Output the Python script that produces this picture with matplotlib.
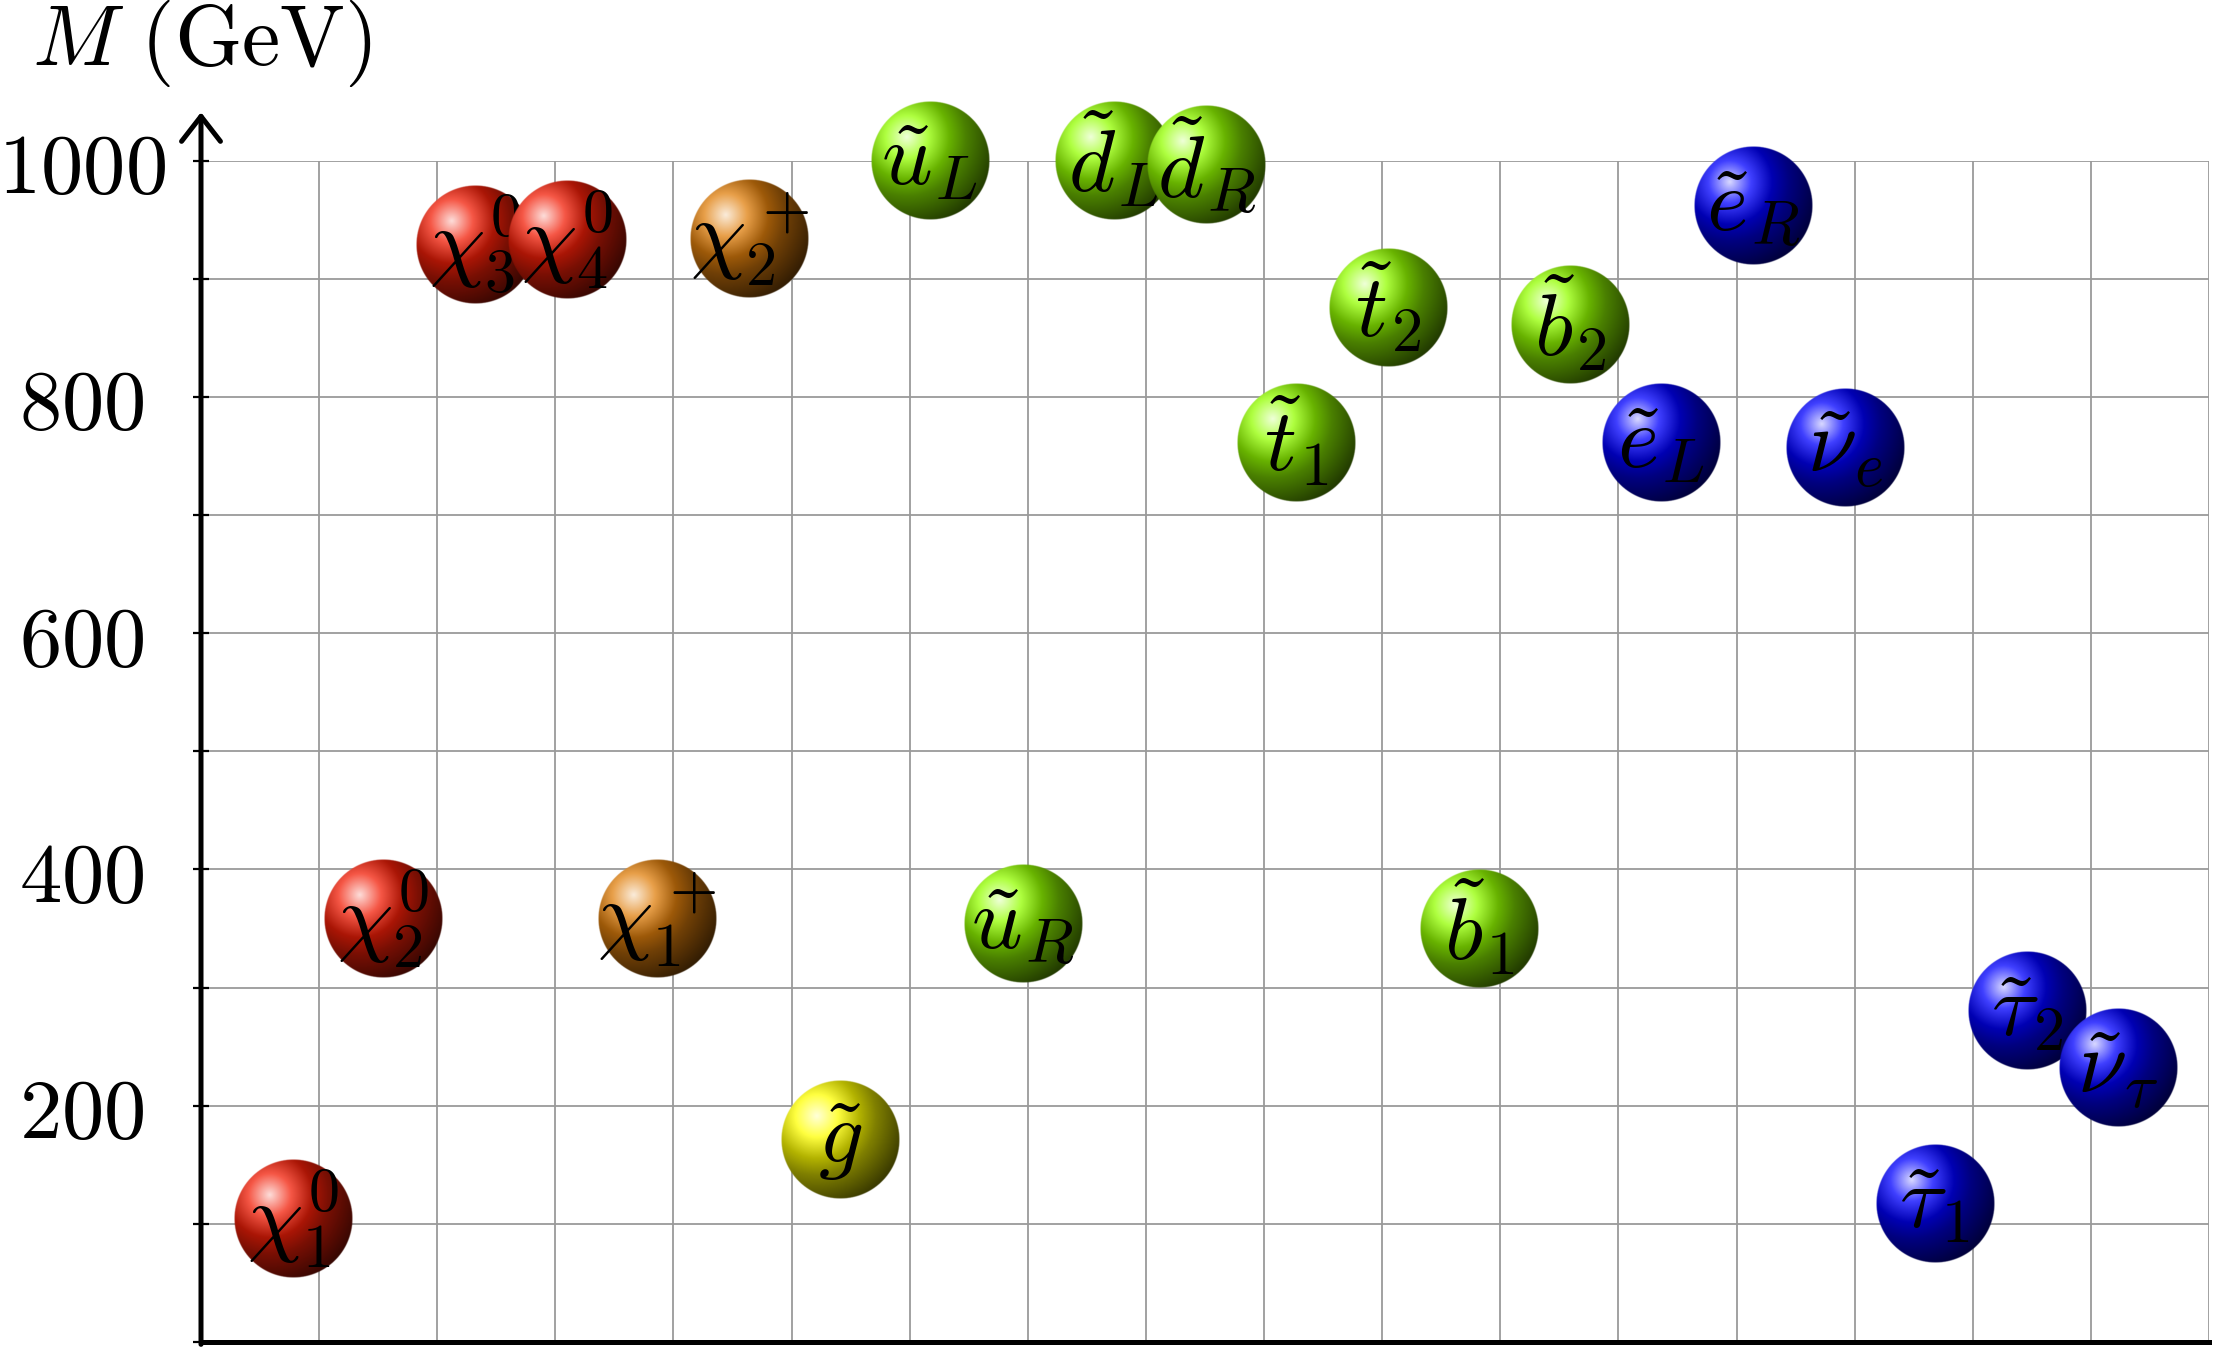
#!/usr/bin/env python3
"""Sparticle mass spectrum drawn as shaded balls"""
import matplotlib
matplotlib.use("Agg")
import matplotlib.pyplot as plt
import numpy as np

plt.rcParams['mathtext.fontset'] = 'cm'

# Spectrum data
labels = [r'$\chi_1^0$', r'$\chi_2^0$', r'$\chi_3^0$', r'$\chi_4^0$',
          r'$\chi_1^+$', r'$\chi_2^+$', r'$\tilde{g}$',
          r'$\tilde{u}_L$', r'$\tilde{u}_R$', r'$\tilde{d}_L$', r'$\tilde{d}_R$',
          r'$\tilde{t}_1$', r'$\tilde{t}_2$', r'$\tilde{b}_1$', r'$\tilde{b}_2$',
          r'$\tilde{e}_L$', r'$\tilde{e}_R$', r'$\tilde{\nu}_e$',
          r'$\tilde{\tau}_1$', r'$\tilde{\tau}_2$', r'$\tilde{\nu}_\tau$']
x_pos = [0.78, 1.54, 2.32, 3.10, 3.86, 4.64, 5.41, 6.17, 6.96, 7.73, 8.51,
         9.27, 10.05, 10.82, 11.59, 12.36, 13.14, 13.92, 14.68, 15.46, 16.23]
masses = [104, 358, 929, 933, 358, 934, 171, 1000, 354, 1000, 996,
          761, 875, 350, 861, 761, 962, 757, 117, 280, 232]
kinds = ['neutralino'] * 4 + ['chargino'] * 2 + ['gluino'] + ['squark'] * 8 + ['slepton'] * 6

ball_colors = {
    'neutralino': (0.95, 0.12, 0.03),
    'chargino': (0.88, 0.50, 0.05),
    'gluino': (1.0, 1.0, 0.0),
    'squark': (0.58, 1.0, 0.0),
    'slepton': (0.0, 0.0, 1.0),
}
y_ticks = np.arange(0, 1001, 100)
y_ticklabels = ['' if (t % 200 or t == 0) else rf'${t}$' for t in y_ticks]


def ball_image(color, n=240):
    """pgf 'ball' shading: radial gradient, highlight up-left"""
    c = np.array(color)
    t = np.linspace(-1, 1, n)
    xx, yy = np.meshgrid(t, t[::-1])
    r = np.hypot(xx + 0.4, yy - 0.4) * 25  # in bp, radius of ball = 25bp
    stops = [0, 9, 18, 25, 50]
    cols = [c * 0.15 + 0.85, c * 0.75 + 0.25, c * 0.7, c * 0.5, c * 0.0]
    img = np.zeros((n, n, 4))
    for k in range(3):
        img[..., k] = np.interp(r, stops, [cc[k] for cc in cols])
    rr = np.hypot(xx, yy)
    img[..., 3] = np.clip((1 - rr) * n / 2.5, 0, 1)
    return img


fig = plt.figure(figsize=(22.17, 13.5), dpi=100)
ax = fig.add_axes([201 / 2217, 8 / 1350, 2008 / 2217, 1181.3 / 1350])

ax.set_xticks(np.arange(0, 18, 1))
ax.set_yticks(y_ticks)
ax.set_yticklabels(y_ticklabels)
ax.tick_params(axis='x', length=0, labelbottom=False)
ax.tick_params(axis='y', direction='inout', length=12, width=1.6, pad=80,
               labelsize=61)
for lab in ax.get_yticklabels():
    lab.set_horizontalalignment('center')
ax.grid(True, color='#9a9a9a', linewidth=1.3)
ax.set_axisbelow(True)

for s in ['top', 'right', 'left']:
    ax.spines[s].set_visible(False)
ax.spines['bottom'].set_linewidth(3.6)

# y axis with arrow head
ax.annotate('', xy=(0, 1041), xytext=(0, -2),
            arrowprops=dict(arrowstyle='->,head_length=0.9,head_width=0.7',
                            lw=3.6, color='black', mutation_scale=20,
                            shrinkA=0, shrinkB=0),
            annotation_clip=False)

# balls
rad_x, rad_y = 0.5, 50
for i, (lab, x, m, k) in enumerate(zip(labels, x_pos, masses, kinds)):
    ax.imshow(ball_image(ball_colors[k]), extent=(x - rad_x, x + rad_x, m - rad_y, m + rad_y),
              aspect='auto', interpolation='bilinear', zorder=3 + 2 * i, clip_on=False)
    ax.text(x, m, lab, ha='center', va='center', fontsize=64, zorder=4 + 2 * i)

ax.set_xlim(0, 17)
ax.set_ylim(0, 1000)

fig.text(32 / 2217, 1 - 65 / 1350, r'$M\ (\mathrm{GeV})$', fontsize=62,
         ha='left', va='baseline')

plt.savefig('out.png', dpi=100)
print("Generated: out.png")
